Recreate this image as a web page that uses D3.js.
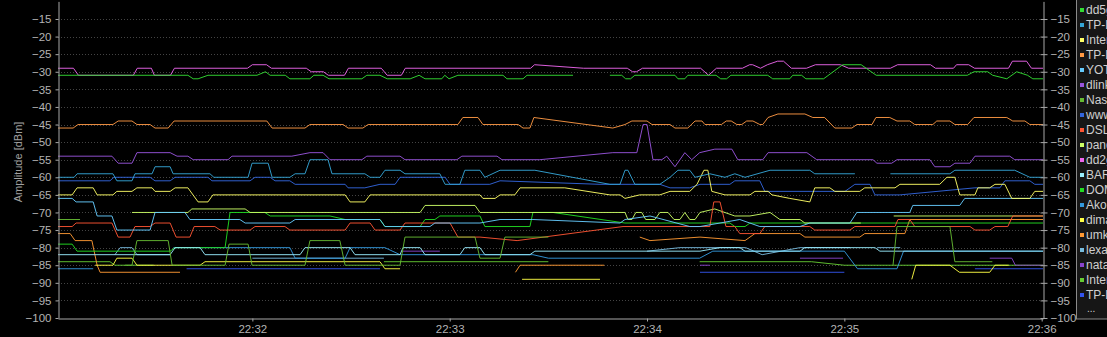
<!DOCTYPE html>
<html>
<head>
<meta charset="utf-8">
<script src="https://cdn.jsdelivr.net/npm/d3@7"></script>
<style>
  html, body { margin: 0; padding: 0; background: #000; overflow: hidden; }
  svg { display: block; font-family: "Liberation Sans", Arial, sans-serif; }
</style>
</head>
<body>
<svg id="chart" width="1107" height="337"></svg>
<script>
// Network names as shown in the legend (clipped by the window edge)
const networks = ['dd5g_home', 'TP-LINK_8F2A', 'InterZet_24', 'TP-LINK_C410', 'YOTA_4G', 'dlink_DIR',
    'Nastya', 'www.home', 'DSL-2640U', 'panda', 'dd2g', 'BARS', 'DOM_RU', 'Akop', 'dima', 'umka',
    'lexa', 'natasha', 'Internet', 'TP-LINK_51C2'];

const colours = ['#33dd33', '#35a6d8', '#ffff66', '#ff9944', '#66ccff', '#9955dd',
    '#66bb33', '#3366dd', '#ff5533', '#ccff66', '#ee66ee', '#99eeff', '#22dd22', '#3399dd',
    '#ffff44', '#ff9933', '#77bbdd', '#8844cc', '#66cc33', '#3355ee'];

const yTicks = [-15, -20, -25, -30, -35, -40, -45, -50, -55, -60, -65, -70, -75, -80, -85, -90, -95, -100];
const xTicks = ['22:32', '22:33', '22:34', '22:35', '22:36'];

// [seconds after 22:31:00, amplitude dBm]; null = network not seen
const sDd5 = [[0.9,-31],[40.4,-31],[42,-32],[43.5,-32],[46.5,-31],[61.4,-31],[64,-30],[65.4,-31],[70,-31],[71.4,-32],[77.5,-32],[78.7,-31],[81.5,-31],[83.3,-32],[93.3,-32],[94.8,-31],[98.8,-31],[101,-32],[108,-32],[110.7,-31],[112.5,-32],[117.6,-32],[118.5,-31],[119.8,-32],[122.5,-31],[136.2,-31],[137.4,-32],[142.3,-32],[143.5,-31],[157.5,-31],[163,null],[168.7,-31],[172.3,-31],[173.5,-32],[175,-32],[176.3,-31],[188.5,-31],[189.4,-32],[191.5,-32],[192.4,-31],[201,-31],[202.4,-32],[204.2,-32],[205.5,-31],[216.7,-31],[218.2,-32],[223.4,-32],[224.3,-31],[227,-31],[228.3,-32],[233.7,-32],[239.5,-28],[245.1,-28],[249.7,-31],[277.4,-31],[279.4,-30],[283.6,-30],[285.1,-31],[289.4,-32],[292.4,-30],[295.7,-31],[297.3,-32],[300.4,-32]];
const sTp1 = [[0.9,-60],[5.8,-60],[6.7,-59],[17.6,-59],[18.8,-61],[23.4,-61],[24.3,-59],[29.5,-59],[30.4,-57],[35,-57],[35.9,-59],[47.1,-59],[48.3,-60],[58.7,-60],[59.9,-56],[64.8,-56],[66,-60],[71.4,-60],[73,-59],[76,-59],[77.5,-55],[83,-55],[84.2,-59],[94.2,-59],[95.8,-60],[98.8,-60],[100.3,-58],[104.9,-58],[106.4,-59],[117,-59],[118.6,-62],[123.1,-62],[124.6,-58],[129.2,-58],[130.7,-60],[135.3,-58],[145.9,-58],[168.7,-62],[171.8,-62],[173.3,-58],[174.2,-58],[176.3,-62],[183.9,-62],[187,-60],[189.4,-58],[193,-58],[194.6,-60],[199.1,-59],[203.7,-60],[206.7,-59],[209.8,-60],[217.4,-58],[229.5,-58],[231,-59],[243.2,-59],[246,null],[254,-59],[272.1,-59],[273.6,-58],[291.8,-58],[296.4,-60],[300.4,-60]];
const sInter = [[0.9,-65],[5.2,-65],[6.7,-63],[11.6,-63],[12.8,-65],[17.6,-65],[18.8,-64],[23.4,-64],[24.9,-63],[29.5,-63],[30.4,-64],[35,-64],[36.5,-63],[40.4,-63],[43.5,-67],[46.5,-67],[48,-65],[88.2,-65],[89.7,-67],[94.2,-67],[95.8,-65],[129.2,-65],[130.1,-66],[133.8,-66],[135.3,-65],[139.8,-65],[141.4,-63],[155,-63],[168.7,-65],[171.8,-65],[173.3,-66],[177.8,-65],[183.9,-65],[187,-64],[193,-64],[195.2,-62],[197.3,-58],[198.5,-58],[199.7,-64],[203.7,-65],[211.3,-65],[212.8,-64],[216.8,-64],[218,-65],[223.4,-66],[229.5,-67],[231,-63],[235.6,-63],[237.1,-64],[244.7,-64],[246.2,-63],[255.4,-63],[256.9,-62],[269,-62],[271.2,-60],[273.6,-60],[275.1,-65],[279.7,-65],[280.6,-63],[284.2,-63],[285.8,-62],[288.8,-62],[290.9,-66],[296.4,-66],[297.9,-64],[300.4,-64]];
const sTp2 = [[0.9,-46],[5.5,-46],[7,-45],[17.6,-45],[19.2,-44],[23.4,-44],[24.9,-45],[28.9,-45],[30.4,-46],[34.4,-46],[36.2,-44],[64.4,-44],[66,-46],[76,-46],[77.5,-45],[87.6,-45],[89.1,-46],[93.6,-46],[95.2,-45],[122.5,-45],[124,-43],[128.6,-43],[130.1,-45],[140.8,-45],[142.3,-46],[144.4,-46],[145.6,-43],[169.6,-46],[173.3,-45],[175.4,-44],[180,-44],[181.5,-45],[187,-45],[188.5,-46],[192.4,-46],[194.6,-44],[196.7,-44],[197.6,-45],[202.6,-45],[204.1,-44],[205.6,-44],[207.3,-45],[208.8,-45],[210.3,-44],[212.2,-44],[214.3,-45],[215.2,-45],[216.8,-43],[219.8,-42],[228,-42],[230.4,-43],[234,-43],[237.1,-46],[242.3,-46],[243.8,-45],[248.4,-45],[249.6,-43],[253.8,-43],[256,-44],[259.9,-44],[261.4,-45],[266.9,-45],[268.1,-44],[272.1,-44],[273.6,-45],[277.5,-45],[279.4,-43],[289.4,-43],[291.2,-44],[294.9,-44],[296.4,-45],[300.4,-45]];
const sYota = [[0.9,-66],[5.2,-66],[6.4,-67],[11.6,-67],[12.8,-71],[17.3,-71],[18.8,-75],[28.9,-75],[30.4,-70],[39.5,-70],[41,-72],[56.2,-72],[57.8,-73],[71.4,-73],[73,-72],[98.8,-72],[100.3,-74],[114,-74],[115.5,-73],[129.2,-73],[135.3,-72],[145.3,-72],[171.8,-73],[173.3,-72],[180.9,-71],[193,-74],[196.1,-74],[202.2,-73],[208.2,-72],[214.3,-74],[226.5,-74],[229.5,-73],[241.7,-73],[243.8,-70],[259.9,-70],[260.8,-68],[275.1,-68],[276.6,-66],[300.4,-66]];
const sDlink = [[0.9,-54],[17.3,-54],[19.2,-56],[23.4,-56],[24.9,-53],[35,-53],[37.1,-54],[40.4,-54],[42,-55],[52.6,-55],[53.8,-54],[72,-54],[77.5,-53],[81.5,-53],[83.6,-55],[93.3,-55],[94.8,-54],[104.9,-54],[106.4,-55],[122.2,-55],[123.7,-54],[134.4,-54],[135.9,-55],[147.4,-55],[169.6,-53],[176.9,-53],[178.8,-45],[180,-45],[181.8,-55],[184.5,-55],[186,-54],[188.5,-57],[191.5,-53],[193.6,-55],[196,-53],[200.6,-52],[205.8,-52],[207.6,-55],[215.2,-55],[216.8,-53],[228.6,-53],[231.6,-55],[248.7,-55],[249.9,-56],[254.4,-56],[256,-55],[266,-55],[267.5,-57],[272.1,-57],[273.6,-56],[278.2,-56],[279.7,-54],[290.3,-54],[291.8,-55],[300.4,-55]];
const sNastya = [[0.9,-72],[7.6,-72],[8,null],[21.3,-85],[23.4,-85],[24.9,-78],[34.4,-78],[35.6,-85],[51.7,-85],[52.9,-79],[58.7,-79],[59.9,-85],[76,-85],[77.5,-78],[86.6,-78],[88.2,-85],[104.9,-85],[106.4,-77],[127.7,-77],[129.2,-83],[135.3,-83],[136.8,-77],[150,-77],[151,null],[254.8,-85],[256,-74],[272.1,-74],[273.6,-84],[285,-84],[286,null]];
const sWww = [[0.9,-61],[16.7,-61],[17.9,-60],[28.9,-60],[30.4,-61],[35,-61],[36.5,-60],[46.5,-60],[47.7,-61],[59.3,-61],[60.8,-60],[65.4,-60],[66.9,-61],[71.4,-61],[73,-62],[88.2,-62],[89.1,-63],[94.2,-63],[98.8,-62],[103.4,-62],[104.9,-60],[118.6,-60],[120.1,-62],[132.2,-62],[135.3,-61],[165.7,-62],[183.9,-62],[187,-63],[193,-63],[196.1,-62],[205.2,-62],[206.7,-61],[214.3,-61],[215.8,-64],[240.2,-64],[243.2,-62],[247.8,-62],[249.3,-65],[256.9,-65],[279.7,-63],[287.3,-63],[288.8,-61],[296.4,-61],[297.9,-62],[300.4,-62]];
const sDsl = [[0.9,-74],[5.2,-74],[6.4,-73],[17.3,-73],[19.2,-77],[22.8,-77],[24.3,-74],[28.9,-74],[30.4,-73],[35,-73],[36.8,-77],[41,-77],[42.3,-74],[48.6,-74],[50.2,-75],[59.3,-75],[60.8,-74],[69.9,-74],[71.4,-75],[88.2,-75],[89.7,-73],[95.8,-73],[97.3,-75],[104.9,-75],[106.4,-73],[120.1,-73],[122.5,-77],[129.2,-77],[140.5,-78],[172.7,-74],[196.1,-74],[199.1,-74],[200.3,-67],[202.2,-67],[204,-74],[206.7,-74],[208.2,-76],[214.3,-76],[215.8,-74],[229.5,-74],[231,-75],[241.7,-75],[243.2,-74],[255.4,-74],[256.3,-72],[259.9,-72],[261.4,-74],[278.2,-74],[279.7,-75],[284.2,-75],[285.8,-74],[289.7,-74],[291.2,-71],[300.4,-71]];
const sPanda = [[23.4,-70],[40.4,-70],[41.6,-69],[57.8,-69],[59.3,-70],[111,-70],[112.5,-68],[127.7,-68],[129.2,-70],[173.3,-70],[174.2,-72],[175.4,-72],[176.6,-70],[178.4,-70],[179.6,-72],[182.4,-72],[183.9,-70],[186.4,-70],[188.2,-72],[190,-72],[191.5,-70],[193,-72],[194.6,-72],[196.1,-70],[200.6,-69],[206.7,-71],[211.3,-71],[217.4,-70],[220.4,-72],[226.5,-72],[228,-73],[245,-73],[247,null],[255,-71],[300.4,-71]];
const sDd2 = [[0.9,-29],[5.6,-29],[7.1,-31],[23.8,-31],[25,-29],[29.3,-29],[30.2,-31],[35.1,-31],[36.3,-29],[58.5,-29],[60,-28],[64.3,-28],[65.8,-29],[76.4,-29],[77.9,-30],[81.6,-30],[83.1,-31],[88,-31],[89.2,-29],[99.2,-29],[101,-31],[105.3,-31],[106.5,-29],[144.6,-29],[145.8,-28],[160.7,-29],[174,-29],[175.6,-30],[176.8,-30],[178.6,-29],[196.3,-29],[198.7,-31],[201.1,-29],[209,-29],[211.2,-28],[212.1,-28],[214.5,-29],[216.6,-28],[219.7,-27],[221.5,-27],[223.9,-29],[228.5,-29],[231.2,-28],[238.8,-28],[241.3,-29],[254,-29],[256.2,-28],[266.2,-28],[267.7,-29],[273.2,-29],[274.1,-28],[277.8,-28],[279.6,-29],[289.9,-29],[291.1,-27],[295.4,-27],[296.9,-29],[300.4,-29]];
const sBars = [[0.9,-82],[35,-82],[36.5,-80],[44.1,-80],[45.6,-82],[74.5,-82],[76,-80],[89.7,-80],[91.2,-82],[104.9,-82],[105.8,-80],[111,-80],[112.5,-82],[123.1,-82],[124.6,-80],[129.2,-80],[130.7,-82],[144.4,-82],[145.9,-81],[196.1,-81],[202.2,-80],[208.2,-80],[209.8,-81],[226.5,-81],[228,-80],[249.3,-80],[250.8,-81],[300.4,-81]];
const sDom = [[0.9,-79],[5.2,-79],[6.7,-81],[35,-81],[36.5,-80],[51.7,-80],[53.2,-70],[63.8,-70],[65.4,-71],[83.6,-71],[88.2,-72],[98.8,-72],[100.3,-74],[111,-74],[112.5,-72],[115.5,-72],[117,-71],[129.2,-71],[130.7,-74],[144.4,-74],[145.3,-70],[151.4,-70],[173.3,-73],[205.2,-73],[206.7,-74],[209.8,-74],[211.3,-73],[300.4,-73]];
const sAkop = [[0.9,-86],[11.6,-86],[12.2,null],[36,-80],[71.4,-80],[73,-83],[88.2,-83],[89.7,-80],[100.3,-80],[104.9,-82],[145.3,-82],[150,-83],[196,-83],[200,-81],[240,-81],[244,-86],[256,-86],[258,-81],[300.4,-81]];
const sDima = [[12.2,-85],[17.6,-85],[18.8,-83],[23.4,-83],[24.9,-85],[44.1,-85],[45.6,-84],[98.8,-84],[100.3,-86],[104.9,-86],[106,null],[142,-89],[165.7,-89],[167,null],[260.5,-89],[261.7,-85],[272.1,-85],[275,-87],[284.2,-87],[285.8,-85],[290,-85]];
const sUmka = [[0.9,-76],[4.6,-76],[6.1,-78],[11.2,-78],[12.8,-85],[13.7,-87],[38,-87],[39,null],[140,-87],[141.4,-85],[167,-85],[168,null],[177.8,-77],[180.9,-78],[196.1,-77],[209.8,-78],[212.8,-76],[226.5,-76],[228,-77],[244.7,-77],[246.2,-76],[258.4,-76],[259.9,-72],[300.4,-72]];
const sLexa = [[18.2,-82],[19.8,-80],[23.4,-80],[24.9,-82],[35,-82],[36,null],[60,-83],[100,-83],[101,null],[180,-81],[190,-80],[210,-80],[215,-82],[226.5,-80],[241.7,-80],[243,null],[250,-80],[257,-80],[259,null]];
const sNatasha = [[105.8,-81],[117,-81],[118,null],[196.1,-85],[199.1,-85],[200,null],[226.5,-83],[239.6,-83],[241,null],[284.2,-83],[290.9,-83],[292,-85],[300.4,-85]];
const sInternet = [[0.9,-84],[16.7,-84],[18.2,-85],[30,-85],[31,null],[100,-84],[150,-84],[151,null],[196,-84],[230,-84],[240,-85],[280,-85],[300.4,-85]];
const sTp3 = [[40,-86],[98.8,-86],[100,null],[196.1,-87],[240,-87],[242,null],[279.7,-86],[300.4,-86]];

const series = [sDd5, sTp1, sInter, sTp2, sYota, sDlink, sNastya, sWww, sDsl, sPanda, sDd2, sBars,
    sDom, sAkop, sDima, sUmka, sLexa, sNatasha, sInternet, sTp3];

const svg = d3.select('#chart');
const plotLeft = 58, plotRight = 1043, plotTop = 1.4, plotBottom = 318;
const t0 = new Date(2020, 0, 1, 22, 31, 0);
const toDate = s => new Date(t0.getTime() + s * 1000);

const x = d3.scaleTime()
    .domain([toDate(0.9), toDate(300.4)])
    .range([plotLeft, plotRight]);
const y = d3.scaleLinear()
    .domain([-100, -10])
    .range([plotBottom, plotTop]);

// dotted grid
svg.append('g')
    .selectAll('line')
    .data(yTicks.filter(v => v !== -100))
    .enter()
    .append('line')
    .attr('x1', plotLeft)
    .attr('x2', plotRight)
    .attr('y1', d => Math.round(y(d)) + 0.5)
    .attr('y2', d => Math.round(y(d)) + 0.5)
    .attr('stroke', '#444')
    .attr('stroke-dasharray', '1,2');

// series lines, drawn in reverse so the first networks sit on top
const line = d3.line()
    .defined(d => d[1] !== null)
    .x(d => x(toDate(d[0])))
    .y(d => y(d[1]));

svg.append('g')
    .selectAll('path')
    .data(series.map((s, i) => ({ s, i })).reverse())
    .enter()
    .append('path')
    .attr('d', d => line(d.s))
    .attr('fill', 'none')
    .attr('stroke', d => colours[d.i])
    .attr('stroke-width', 1)
    .attr('stroke-opacity', 0.92)
    .attr('stroke-linejoin', 'round');

const axisColour = '#a8a8a8';
const labelColour = '#b4b4b4';

function styleAxis(g) {
    g.selectAll('path, line').attr('stroke', axisColour);
    g.selectAll('text')
        .attr('fill', labelColour)
        .style('font-size', '11.5px')
        .style('font-family', '"Liberation Sans", Arial, sans-serif');
}

svg.append('g')
    .attr('transform', `translate(${plotLeft + 0.5},0)`)
    .call(d3.axisLeft(y).tickValues(yTicks).tickSize(3).tickPadding(4).tickSizeOuter(0))
    .call(styleAxis);

// right axis ticks cross the axis line
svg.append('g')
    .attr('transform', `translate(${plotRight + 0.5},0)`)
    .call(d3.axisRight(y).tickValues(yTicks).tickSize(4).tickPadding(3).tickSizeOuter(0))
    .call(styleAxis)
    .call(g => g.selectAll('.tick line').attr('x1', -3));

const parseTick = d3.timeParse('%H:%M');
const xTickDates = xTicks.map(s => {
    const p = parseTick(s);
    return new Date(2020, 0, 1, p.getHours(), p.getMinutes(), 0);
});

svg.append('g')
    .attr('transform', `translate(0,${plotBottom + 0.5})`)
    .call(d3.axisBottom(x).tickValues(xTickDates).tickFormat(d3.timeFormat('%H:%M'))
        .tickSize(3).tickPadding(3).tickSizeOuter(0))
    .call(styleAxis);

// axis title
svg.append('text')
    .attr('transform', 'translate(22,162) rotate(-90)')
    .attr('text-anchor', 'middle')
    .attr('fill', '#a0a0a0')
    .style('font-size', '11px')
    .text('Amplitude [dBm]');

// legend, clipped by the right edge of the window as in the original screenshot
svg.append('clipPath')
    .attr('id', 'legend-clip')
    .append('rect')
    .attr('x', 0)
    .attr('y', -2)
    .attr('width', 31)
    .attr('height', 330);

const legend = svg.append('g').attr('transform', 'translate(1076,0)');
legend.append('rect')
    .attr('x', 0.5)
    .attr('y', -1)
    .attr('width', 60)
    .attr('height', 320)
    .attr('fill', '#161616')
    .attr('stroke', '#8a8a8a');

const rows = legend.append('g')
    .attr('clip-path', 'url(#legend-clip)')
    .selectAll('g.row')
    .data(networks)
    .enter()
    .append('g')
    .attr('class', 'row')
    .attr('transform', (d, i) => `translate(0,${10 + i * 15})`);

rows.append('rect')
    .attr('x', 4)
    .attr('y', -2)
    .attr('width', 4)
    .attr('height', 4)
    .attr('fill', (d, i) => colours[i]);

rows.append('text')
    .attr('x', 10)
    .attr('y', 0)
    .attr('dy', '0.36em')
    .attr('fill', '#cfcfcf')
    .style('font-size', '12px')
    .text(d => d);

legend.append('text')
    .attr('x', 11)
    .attr('y', 312)
    .attr('fill', '#cfcfcf')
    .style('font-size', '10px')
    .text('...');
</script>
</body>
</html>
